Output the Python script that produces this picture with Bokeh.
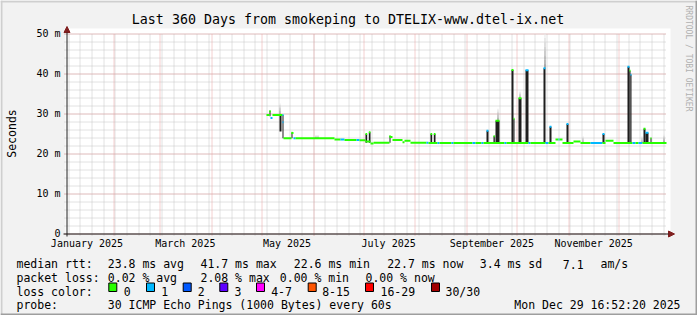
import math
from bokeh.plotting import figure
from bokeh.models import Range1d, FixedTicker, LinearAxis, BoxAnnotation, Arrow, NormalHead
from bokeh.core.properties import value
from bokeh.embed import file_html
from bokeh.resources import INLINE

# ---------------- data ----------------
TITLE = "Last 360 Days from smokeping to DTELIX-www.dtel-ix.net"
T_START = 2.703      # days since 2025-01-01 00:00  (Jan 3 16:52)
T_END = 362.703      # Dec 29 2025 16:52
Y_MAX = 50           # ms

y_ticks = [0, 10, 20, 30, 40, 50]
y_tick_labels = ["0", "10 m", "20 m", "30 m", "40 m", "50 m"]
y_minor = [0, 2, 4, 6, 8, 10, 12, 14, 16, 18, 20, 22, 24, 26, 28, 30, 32, 34, 36, 38,
           40, 42, 44, 46, 48, 50]
month_starts = [31, 59, 90, 120, 151, 181, 212, 243, 273, 304, 334]
week_starts = list(range(4, 362, 7))          # Sundays
label_days = [15, 74, 135, 196, 258, 319]
month_labels = ["January 2025", "March 2025", "May 2025", "July 2025",
                "September 2025", "November 2025"]

loss_labels = ["0", "1", "2", "3", "4-7", "8-15", "16-29", "30/30"]
loss_colors = ["#26ff00", "#00b8ff", "#0059ff", "#5e00ff", "#ff00ff",
               "#ff5500", "#ff0000", "#a10000"]

# median rtt, piecewise (start day, end day, ms, loss class)
med_start = [122.7, 124.5, 125.1, 126.3, 132.3, 132.9, 137.7, 138.9, 140.1, 163.5,
             167.1, 169.5, 176.7, 178.5, 182.1, 185.1, 186.9, 196.5, 198.3, 204.3,
             205.5, 209.1, 218.7, 219.9, 225.3, 226.5, 233.7, 234.9, 246.3, 248.1,
             251.7, 252.9, 265.5, 266.7, 279.9, 281.1, 290.1, 291.9, 296.1, 297.9,
             298.5, 300.3, 306.9, 311.1, 317.1, 324.3, 326.1, 330.9, 342.3, 344.1,
             345.9, 348.3]
med_end = [124.5, 125.1, 126.3, 132.3, 132.9, 137.7, 138.9, 140.1, 163.5, 167.1,
           169.5, 176.7, 178.5, 182.1, 185.1, 186.9, 196.5, 198.3, 204.3, 205.5,
           209.1, 218.7, 219.9, 225.3, 226.5, 233.7, 234.9, 246.3, 248.1, 251.7,
           252.9, 265.5, 266.7, 279.9, 281.1, 290.1, 291.9, 296.1, 297.9, 298.5,
           300.3, 306.9, 311.1, 317.1, 324.3, 326.1, 330.9, 342.3, 344.1, 345.9,
           348.3, 362.7]
med_ms = [29.6, 30.5, 28.9, 29.6, 27.8, 23.8, 25.1, 23.8, 23.8, 23.5,
          23.5, 23.4, 23.4, 23.3, 23.0, 22.5, 22.7, 24.1, 23.4, 22.8,
          23.2, 22.7, 22.7, 22.6, 22.6, 22.6, 22.6, 22.6, 22.6, 22.6,
          22.6, 22.6, 22.6, 22.6, 22.6, 22.6, 22.6, 22.6, 23.5, 23.5,
          23.5, 22.6, 23.0, 22.6, 22.6, 22.6, 23.2, 22.6, 22.6, 22.6,
          22.6, 22.6]
med_loss = [0, 0, 1, 0, 1, 0, 0, 1, 0, 0,
            1, 0, 1, 0, 0, 0, 0, 0, 0, 0,
            0, 0, 1, 0, 1, 0, 1, 0, 1, 0,
            1, 0, 1, 0, 1, 0, 1, 0, 0, 1,
            0, 0, 0, 0, 1, 0, 0, 0, 1, 0,
            1, 0]

# dense smoke bars (start day, end day, low ms, high ms, loss class at the top)
spk_start = [124.5, 130.5, 132.3, 137.7, 182.1, 184.1, 196.5, 221.1, 223.1, 254.7,
             258.9, 260.1, 269.7, 270.9, 273.9, 278.1, 288.9, 292.5, 302.7, 324.3,
             339.3, 340.5, 341.1, 348.9, 350.1, 353.1]
spk_end = [125.1, 131.7, 132.9, 138.3, 183.1, 185.1, 197.1, 222.1, 224.1, 255.9,
           259.7, 262.5, 270.9, 271.5, 275.7, 279.9, 290.1, 293.7, 303.9, 325.5,
           340.5, 341.1, 341.7, 350.1, 351.9, 353.7]
spk_lo = [29.3, 25.5, 23.8, 23.8, 22.7, 22.7, 22.7, 22.6, 22.6, 22.6,
          22.6, 22.6, 22.6, 22.6, 22.6, 22.6, 22.6, 22.6, 22.6, 22.6,
          22.6, 22.6, 22.6, 22.6, 22.6, 22.6]
spk_hi = [30.6, 29.6, 29.6, 25.2, 24.9, 25.3, 24.4, 24.9, 24.9, 25.7,
          24.3, 28.2, 40.9, 28.7, 33.8, 40.8, 41.3, 26.7, 27.4, 24.9,
          41.7, 40.7, 39.7, 26.2, 25.2, 23.8]
spk_loss = [0, 0, 1, 0, 0, 0, 0, 0, 0, 1,
            0, 0, 0, 0, 0, 1, 1, 1, 1, 1,
            1, 0, 1, 0, 1, 0]

# light smoke (start day, end day, low ms, high ms)
smk_start = [130.5, 152.1, 153.3, 261.3, 274.5, 289.5, 312.3, 347.7, 360.9]
smk_end = [131.1, 152.7, 153.9, 261.9, 275.1, 290.1, 312.9, 348.3, 361.5]
smk_lo = [29.6, 23.8, 23.8, 28.2, 33.8, 41.3, 22.6, 22.6, 22.6]
smk_hi = [32.5, 24.6, 24.6, 31.2, 35.5, 50.0, 24.3, 24.3, 24.7]

rtt_head = "median rtt:"
rtt_stats = ["23.8 ms avg", "41.7 ms max", "22.6 ms min", "22.7 ms now", "3.4 ms sd", "7.1", "am/s"]
loss_head = "packet loss:"
loss_stats = ["0.02 % avg", "2.08 % max", "0.00 % min", "0.00 % now"]
color_head = "loss color:"
probe_head = "probe:"
probe_text = "30 ICMP Echo Pings (1000 Bytes) every 60s"
stamp_text = "Mon Dec 29 16:52:20 2025"
y_title = "Seconds"
watermark = "RRDTOOL / TOBI OETIKER"

# ---------------- layout / style ----------------
FONT = "DejaVu Sans Mono"
W, H = 697, 315
FL, FR, FT, FB = 66, 666, 33, 233      # plot area in pixels
MAJ = "#e8a0a0"
MIN = "#c4c4c4"
SPIKE = "#1e1e1e"
ARROW = "#801f1f"
AXIS = "#1f1f1f"


def X(px):
    return T_START + (px - FL) * (T_END - T_START) / (FR - FL)


def Y(py):
    return (FB - py) * Y_MAX / (FB - FT)


def PX(d):
    return FL + (d - T_START) * (FR - FL) / (T_END - T_START)


def PY(v):
    return FB - v * (FB - FT) / Y_MAX


p = figure(width=W, height=H, x_range=Range1d(X(0), X(W)), y_range=Range1d(Y(H), Y(0)),
           output_backend="svg", toolbar_location=None, title=None,
           x_axis_location=None, y_axis_location=None,
           min_border=0, min_border_left=0, min_border_right=0, min_border_top=0, min_border_bottom=0,
           border_fill_color="#f2f2f2", background_fill_color="#f2f2f2", outline_line_color=None)
p.xgrid.visible = False
p.ygrid.visible = False

# white canvas
p.add_layout(BoxAnnotation(left=X(65), right=X(670), top=Y(28), bottom=Y(233),
                           fill_color="#ffffff", fill_alpha=1, line_color=None, level="image"))

# grid (snapped to pixel centres)
vx_min = [X(math.floor(PX(d)) + 0.5) for d in week_starts]
vx_maj = [X(math.floor(PX(d)) + 0.5) for d in month_starts]
hy_min = [Y(math.floor(PY(v)) + 0.5) for v in y_minor]
hy_maj = [Y(math.floor(PY(v)) + 0.5) for v in y_ticks]
p.segment(x0=vx_min, y0=Y(FB + 2), x1=vx_min, y1=Y(FT), line_color=MIN, line_width=1, line_dash="1 1")
p.segment(x0=X(FL - 2), y0=hy_min, x1=X(FR), y1=hy_min, line_color=MIN, line_width=1, line_dash="1 1")
p.segment(x0=vx_maj, y0=Y(FB + 2), x1=vx_maj, y1=Y(FT), line_color=MAJ, line_width=1, line_dash="1 1")
p.segment(x0=X(FL - 2), y0=hy_maj, x1=X(FR), y1=hy_maj, line_color=MAJ, line_width=1, line_dash="1 1")

# light smoke, shaded from dark to light
N = 8
sl, sr, sb, stp, sc = [], [], [], [], []
for a, b, lo, hi in zip(smk_start, smk_end, smk_lo, smk_hi):
    for k in range(N):
        sl.append(a); sr.append(b)
        sb.append(lo + (hi - lo) * k / N)
        stp.append(lo + (hi - lo) * (k + 1) / N)
        g = int(0x60 + (0xe6 - 0x60) * k / (N - 1))
        sc.append("#%02x%02x%02x" % (g, g, g))
p.quad(left=sl, right=sr, bottom=sb, top=stp, fill_color=sc, line_color=None)

# dense smoke bars
p.quad(left=spk_start, right=spk_end, bottom=spk_lo, top=spk_hi,
       fill_color=SPIKE, line_color=None)

# median line coloured by loss
p.segment(x0=med_start, y0=med_ms, x1=med_end, y1=med_ms,
          line_color=[loss_colors[i] for i in med_loss], line_width=2)
# coloured tops of the bars
p.segment(x0=spk_start, y0=spk_hi, x1=spk_end, y1=spk_hi,
          line_color=[loss_colors[i] for i in spk_loss], line_width=2)

# axes (tick labels), fixed at the plot-area edges
yax = LinearAxis(fixed_location=X(FL), ticker=FixedTicker(ticks=y_ticks),
                 major_label_overrides={t: s for t, s in zip(y_ticks, y_tick_labels)})
xax = LinearAxis(fixed_location=Y(FB), ticker=FixedTicker(ticks=label_days),
                 major_label_overrides={t: s for t, s in zip(label_days, month_labels)})
for ax in (xax, yax):
    ax.axis_line_color = None
    ax.major_tick_line_color = None
    ax.minor_tick_line_color = None
    ax.major_tick_out = 0
    ax.major_tick_in = 0
    ax.major_label_text_font = FONT
    ax.major_label_text_font_size = "10px"
    ax.major_label_text_color = "#000000"
yax.major_label_standoff = 6
xax.major_label_standoff = 4
p.add_layout(yax, "left")
p.add_layout(xax, "below")

# axis lines with arrows
p.add_layout(Arrow(x_start=X(63), y_start=Y(233.5), x_end=X(674), y_end=Y(233.5),
                   line_color=AXIS, line_width=1,
                   end=NormalHead(size=6, fill_color=ARROW, line_color=ARROW, line_width=1)))
p.add_layout(Arrow(x_start=X(66.5), y_start=Y(236), x_end=X(66.5), y_end=Y(26),
                   line_color=AXIS, line_width=1,
                   end=NormalHead(size=6, fill_color=ARROW, line_color=ARROW, line_width=1)))


def txt(pxs, py, strings, size="11.5px", align="left", angle=0.0, color="#000000",
        baseline="alphabetic"):
    p.text(x=[X(v) for v in pxs], y=[Y(py)] * len(pxs), text=strings,
           text_font=value(FONT), text_font_size=value(size), text_align=align,
           text_baseline=baseline, angle=angle, text_color=color)


txt([347.5], 18.5, [TITLE], size="13.3px", align="center")
txt([11], 133, [y_title], size="11.5px", align="center", angle=math.pi / 2, baseline="middle")
txt([688], 5, [watermark], size="8px", align="left", angle=-math.pi / 2, color="#b0b0b0",
    baseline="middle")

R1, R2, R3, R4 = 263.5, 277.3, 291.0, 304.5
txt([16, 107.3, 200, 293.3, 386.7, 479.3, 562.3, 600], R1, [rtt_head] + rtt_stats)
txt([16, 107.3, 200, 279.3, 365], R2, [loss_head] + loss_stats)
box_x = [108.3, 146, 182.7, 219.3, 256, 307.7, 365, 431]
lab_x = [123.3, 160.7, 197.3, 234, 270.7, 321.7, 380, 445]
txt([16] + lab_x, R3, [color_head] + loss_labels)
p.quad(left=[X(v) for v in box_x], right=[X(v + 8) for v in box_x],
       top=Y(282.5), bottom=Y(291), fill_color=loss_colors, line_color="#000000", line_width=1)
txt([16, 107.3], R4, [probe_head, probe_text])
txt([680], R4, [stamp_text], align="right")

# bevelled frame
for l, r, t, b, c in [(0, 697, 0, 2, "#cfcfcf"), (0, 2, 0, 315, "#cfcfcf"),
                      (695, 697, 0, 315, "#9e9e9e"), (0, 697, 313, 315, "#9e9e9e")]:
    p.add_layout(BoxAnnotation(left=X(l), right=X(r), top=Y(t), bottom=Y(b),
                               fill_color=c, fill_alpha=1, line_color=None, level="overlay"))

open("out.html", "w").write(file_html(p, INLINE))
